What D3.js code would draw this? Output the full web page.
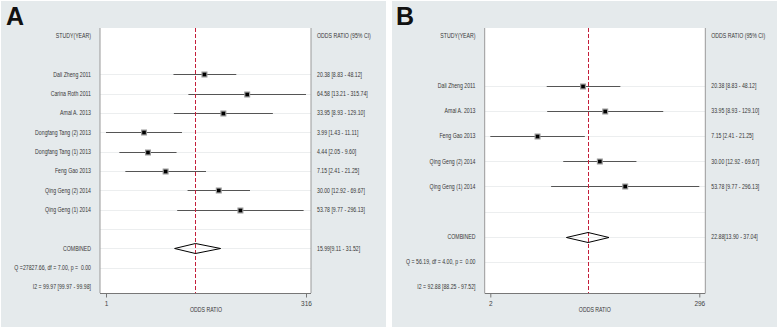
<!DOCTYPE html>
<html>
<head>
<meta charset="utf-8">
<script src="https://cdn.jsdelivr.net/npm/d3@7"></script>
<style>
  body { margin: 0; background: #fff; }
  svg text { font-family: "Liberation Sans", Arial, sans-serif; }
</style>
</head>
<body>
<div id="chart"></div>
<script>
// Panel A data
const studiesA = ["Dali Zheng 2011", "Carina Roth 2011", "Amal A. 2013", "Dongfang Tang (2) 2013",
  "Dongfang Tang (1) 2013", "Feng Gao 2013", "Qing Geng (2) 2014", "Qing Geng (1) 2014"]
const orA = [20.38, 64.58, 33.95, 3.99, 4.44, 7.15, 30.00, 53.78]
const lowA = [8.83, 13.21, 8.93, 1.43, 2.05, 2.41, 12.92, 9.77]
const highA = [48.12, 315.74, 129.10, 11.11, 9.60, 21.25, 69.67, 296.13]
const pooledA = [15.99, 9.11, 31.52]
const statsA = ["Q =27827.66, df = 7.00, p =  0.00", "I2 = 99.97 [99.97 - 99.98]"]

// Panel B data
const studiesB = ["Dali Zheng 2011", "Amal A. 2013", "Feng Gao 2013", "Qing Geng (2) 2014", "Qing Geng (1) 2014"]
const orB = [20.38, 33.95, 7.15, 30.00, 53.78]
const lowB = [8.83, 8.93, 2.41, 12.92, 9.77]
const highB = [48.12, 129.10, 21.25, 69.67, 296.13]
const pooledB = [22.88, 13.90, 37.04]
const statsB = ["Q = 56.19, df = 4.00, p =  0.00", "I2 = 92.88 [88.25 - 97.52]"]

const W = 778, H = 328
const svg = d3.select("#chart").append("svg")
  .attr("width", W).attr("height", H)

const f2 = d3.format(".2f")
const fs = 6.5
const squeeze = 0.8 // reference text is set in a narrow face

// small narrow text, placed with a transform so it can be squeezed horizontally
function label(sel, x, y, anchor) {
  return sel
    .attr("transform", (d, i) => `translate(${typeof x === "function" ? x(d, i) : x},${typeof y === "function" ? y(d, i) : y}) scale(${squeeze},1)`)
    .attr("text-anchor", anchor)
    .attr("font-size", fs).attr("fill", "#383838")
    .style("white-space", "pre")
}

function drawPanel(p) {
  const g = svg.append("g")
  const n = p.studies.length
  // rows: header, blank, studies..., blank, combined, Q, I2
  const nRows = n + 6
  const y = d3.scaleLinear().domain([0, nRows - 1]).range([35.6, 287])
  const xMin = d3.min(p.low), xMax = d3.max(p.high)
  const x = d3.scaleLog().domain([xMin, xMax]).range([p.x0, p.x1])

  g.append("rect")
    .attr("x", p.bg[0]).attr("y", 1)
    .attr("width", p.bg[1] - p.bg[0]).attr("height", 326)
    .attr("fill", "#e5eaec")

  g.append("text")
    .attr("x", p.bg[0] + p.letterDx).attr("y", 25)
    .attr("font-size", 25).attr("font-weight", "bold").attr("fill", "#111")
    .text(p.letter)

  // plot area
  g.append("rect")
    .attr("x", p.left).attr("y", 28)
    .attr("width", p.right - p.left).attr("height", 293 - 28)
    .attr("fill", "#fff")

  // faint row lines
  const lineRows = d3.range(2, nRows - 1)
  g.append("g").selectAll("line")
    .data(lineRows)
    .join("line")
    .attr("x1", p.left).attr("x2", p.right)
    .attr("y1", d => Math.round(y(d)) + 0.5).attr("y2", d => Math.round(y(d)) + 0.5)
    .attr("stroke", "#eceeef").attr("stroke-width", 1)

  g.append("line")
    .attr("x1", p.left).attr("x2", p.left).attr("y1", 28).attr("y2", 293)
    .attr("stroke", "#999")
  g.append("line")
    .attr("x1", p.right).attr("x2", p.right).attr("y1", 28).attr("y2", 293)
    .attr("stroke", "#999")

  // axis
  const axis = d3.axisBottom(x)
    .tickValues([xMin, xMax])
    .tickFormat(d3.format(".0f"))
    .tickSizeOuter(0).tickSize(4)
  const ax = g.append("g").attr("transform", "translate(0,293.5)").call(axis)
  ax.select(".domain").remove()
  ax.append("line")
    .attr("x1", p.left).attr("x2", p.right)
    .attr("stroke", "#777")
  ax.selectAll(".tick line").attr("stroke", "#777")
  ax.selectAll(".tick text")
    .attr("font-size", fs).attr("fill", "#444")
    .attr("font-family", null)
    .attr("y", 8)

  label(g.append("text"), (p.x0 + p.x1) / 2, 312, "middle")
    .text("ODDS RATIO")

  // CI lines
  const rows = p.studies.map((s, i) => ({ s, or: p.or[i], lo: p.low[i], hi: p.high[i], r: i + 2 }))
  g.append("g").selectAll("line")
    .data(rows)
    .join("line")
    .attr("x1", d => x(d.lo)).attr("x2", d => x(d.hi))
    .attr("y1", d => Math.round(y(d.r)) + 0.5).attr("y2", d => Math.round(y(d.r)) + 0.5)
    .attr("stroke", "#555").attr("stroke-width", 1)

  // red reference line at pooled estimate
  const rx = Math.round(x(p.pooled[0])) + 0.5
  g.append("line")
    .attr("x1", rx).attr("x2", rx)
    .attr("y1", 28).attr("y2", 293)
    .attr("stroke", "#c41e3a").attr("stroke-width", 1)
    .attr("stroke-dasharray", "4,2")

  // boxes
  const pts = g.append("g").selectAll("g")
    .data(rows)
    .join("g")
    .attr("transform", d => `translate(${x(d.or)},${Math.round(y(d.r)) + 0.5})`)
  pts.append("rect")
    .attr("x", -3).attr("y", -3).attr("width", 6).attr("height", 6)
    .attr("fill", "#9a9a9a")
  pts.append("rect")
    .attr("x", -1.8).attr("y", -1.8).attr("width", 3.6).attr("height", 3.6)
    .attr("fill", "#000")

  // diamond
  const cy = Math.round(y(n + 3)) + 0.5
  const [est, lo, hi] = p.pooled
  g.append("path")
    .attr("d", `M${x(lo)},${cy}L${x(est)},${cy - 5}L${x(hi)},${cy}L${x(est)},${cy + 5}Z`)
    .attr("fill", "none").attr("stroke", "#000").attr("stroke-width", 1)

  // left labels
  const leftLabels = [[0, "STUDY(YEAR)"]]
    .concat(p.studies.map((s, i) => [i + 2, s]))
    .concat([[n + 3, "COMBINED"], [n + 4, p.stats[0]], [n + 5, p.stats[1]]])
  label(g.append("g").selectAll("text").data(leftLabels).join("text"),
    p.labelX, d => y(d[0]) + 2.3, "end")
    .text(d => d[1])

  // right labels
  const rightLabels = [[0, "ODDS RATIO (95% CI)"]]
    .concat(rows.map(d => [d.r, `${f2(d.or)} [${f2(d.lo)} - ${f2(d.hi)}]`]))
    .concat([[n + 3, `${f2(est)}[${f2(lo)} - ${f2(hi)}]`]])
  label(g.append("g").selectAll("text").data(rightLabels).join("text"),
    p.right + 6, d => y(d[0]) + 2.3, "start")
    .text(d => d[1])
}

drawPanel({
  letter: "A", letterDx: 5, bg: [1, 386],
  left: 100, right: 311, x0: 106, x1: 306, labelX: 91,
  studies: studiesA, or: orA, low: lowA, high: highA, pooled: pooledA, stats: statsA
})
drawPanel({
  letter: "B", letterDx: 4, bg: [392, 777],
  left: 484.7, right: 705.3, x0: 490.3, x1: 699.3, labelX: 475.5,
  studies: studiesB, or: orB, low: lowB, high: highB, pooled: pooledB, stats: statsB
})
</script>
</body>
</html>
